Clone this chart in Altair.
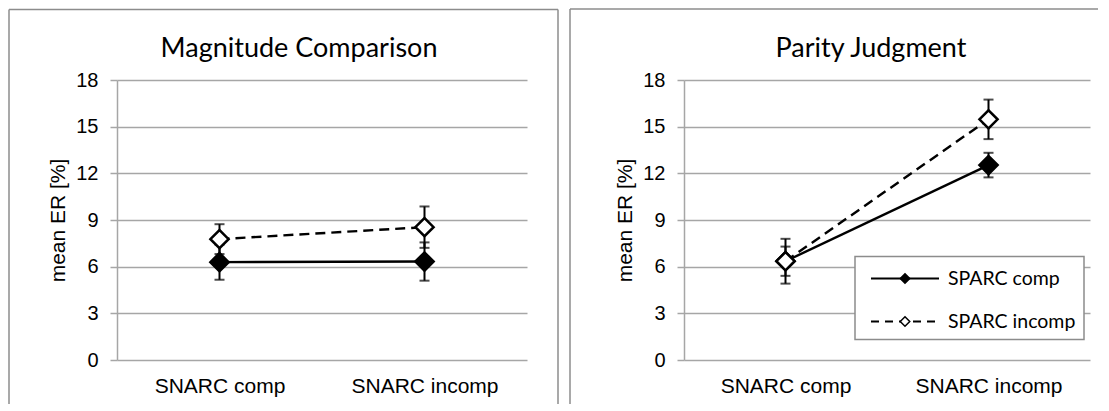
import altair as alt
import pandas as pd

categories = ["SNARC comp", "SNARC incomp"]
series = ["SPARC comp", "SPARC incomp"]
y_ticks = [0, 3, 6, 9, 12, 15, 18]

# Magnitude Comparison (mean ER %, error half-width)
mag_comp_mean = [6.29, 6.33]
mag_comp_err = [1.13, 1.23]
mag_incomp_mean = [7.77, 8.54]
mag_incomp_err = [0.96, 1.33]

# Parity Judgment
par_comp_mean = [6.35, 12.53]
par_comp_err = [0.94, 0.79]
par_incomp_mean = [6.35, 15.47]
par_incomp_err = [1.44, 1.27]

GRID = "#a6a6a6"
BORDER = "#8c8c8c"
AX_FONT = "Liberation Sans"
CAL_FONT = "Lato"
H = 280


def make_df(cm, ce, im, ie):
    rows = []
    for s, means, errs in [(series[0], cm, ce), (series[1], im, ie)]:
        for c, m, e in zip(categories, means, errs):
            rows.append(dict(cat=c, series=s, mean=m, lo=m - e, hi=m + e))
    return pd.DataFrame(rows)


one = pd.DataFrame({"a": [0]})


def panel(df, title, width, title_x, bl, br, btop, legend=False):
    xenc = alt.X(
        "cat:N", sort=categories,
        scale=alt.Scale(type="point", padding=0.5),
        axis=alt.Axis(title=None, labelAngle=0, ticks=False, domain=False,
                      labelPadding=15, labelFont=AX_FONT, labelFontSize=21,
                      labelColor="black", grid=False),
    )
    yaxis = alt.Axis(
        values=y_ticks, title="mean ER [%]", grid=True, gridColor=GRID,
        gridWidth=1.5, domainColor=GRID, domainWidth=1.5, tickColor=GRID,
        tickSize=7, tickWidth=1.5, labelPadding=12, labelFont=AX_FONT,
        labelFontSize=20, labelColor="black", titleFont=AX_FONT,
        titleFontSize=21, titleFontWeight="normal", titleColor="black",
        titleX=-59, titleY=H / 2, titleAngle=-90, titleBaseline="middle",
    )
    ysc = alt.Scale(domain=[0, 18])

    def Y(f):
        return alt.Y(f"{f}:Q", scale=ysc, axis=yaxis)

    base = alt.Chart(df)
    err = base.mark_rule(color="black", strokeWidth=2).encode(x=xenc, y=Y("lo"), y2="hi:Q")
    cap_lo = base.mark_tick(color="black", thickness=2, size=10).encode(x=xenc, y=Y("lo"))
    cap_hi = base.mark_tick(color="black", thickness=2, size=10).encode(x=xenc, y=Y("hi"))
    comp = base.transform_filter(alt.datum.series == series[0])
    inc = base.transform_filter(alt.datum.series == series[1])
    line_c = comp.mark_line(color="black", strokeWidth=2.4).encode(x=xenc, y=Y("mean"))
    line_i = inc.mark_line(color="black", strokeWidth=2.4, strokeDash=[10, 6]).encode(x=xenc, y=Y("mean"))
    pt_c = comp.mark_point(shape="diamond", filled=True, fill="black", stroke="black",
                           strokeWidth=2, size=360, opacity=1).encode(x=xenc, y=Y("mean"))
    pt_i = inc.mark_point(shape="diamond", filled=True, fill="white", stroke="black",
                          strokeWidth=2.5, size=330, opacity=1).encode(x=xenc, y=Y("mean"))

    deco = alt.Chart(one)
    b_top = deco.mark_rule(color=BORDER, strokeWidth=1.5).encode(
        x=alt.value(bl), x2=alt.value(br), y=alt.value(btop))
    b_left = deco.mark_rule(color=BORDER, strokeWidth=1.5).encode(
        x=alt.value(bl), y=alt.value(btop), y2=alt.value(324))
    layers = [b_top, b_left]
    if not legend:
        layers.append(deco.mark_rule(color=BORDER, strokeWidth=1.5).encode(
            x=alt.value(br), y=alt.value(btop), y2=alt.value(324)))
    ttl = deco.mark_text(text=title, font=CAL_FONT, fontSize=27, align="center",
                         baseline="middle", color="black").encode(
        x=alt.value(title_x), y=alt.value(-31.5))
    layers += [err, cap_lo, cap_hi, line_c, line_i, pt_c, pt_i, ttl]

    if legend:
        lx0, lx1, ly0, ly1 = 171, 400, 176.5, 259.5
        rows_y = [198.5, 241.5]
        box = deco.mark_rect(fill="white", stroke=BORDER, strokeWidth=1.5).encode(
            x=alt.value(lx0), x2=alt.value(lx1), y=alt.value(ly0), y2=alt.value(ly1))
        layers.append(box)
        for i, s in enumerate(series):
            dash = [1, 0] if i == 0 else [8, 6]
            ln = deco.mark_rule(color="black", strokeWidth=2, strokeDash=dash).encode(
                x=alt.value(187), x2=alt.value(255), y=alt.value(rows_y[i]))
            pt = deco.mark_point(shape="diamond", filled=True,
                                 fill="black" if i == 0 else "white", stroke="black",
                                 strokeWidth=1.5, size=90, opacity=1).encode(
                x=alt.value(221), y=alt.value(rows_y[i]))
            tx = deco.mark_text(text=s, font=CAL_FONT, fontSize=19.5, align="left",
                                baseline="middle", color="black").encode(
                x=alt.value(264), y=alt.value(rows_y[i]))
            layers += [ln, pt, tx]

    return alt.layer(*layers).properties(width=width, height=H)


left = panel(make_df(mag_comp_mean, mag_comp_err, mag_incomp_mean, mag_incomp_err),
             "Magnitude Comparison", 410, 182, -108, 441, -70.5)
right = panel(make_df(par_comp_mean, par_comp_err, par_incomp_mean, par_incomp_err),
              "Parity Judgment", 406, 187, -114, 414, -71, legend=True)

chart = alt.hconcat(left, right, spacing=10).properties(
    padding=0, background="white"
).configure_view(stroke=None)

chart.save("out.html", embed_options={"renderer": "svg", "actions": False})
